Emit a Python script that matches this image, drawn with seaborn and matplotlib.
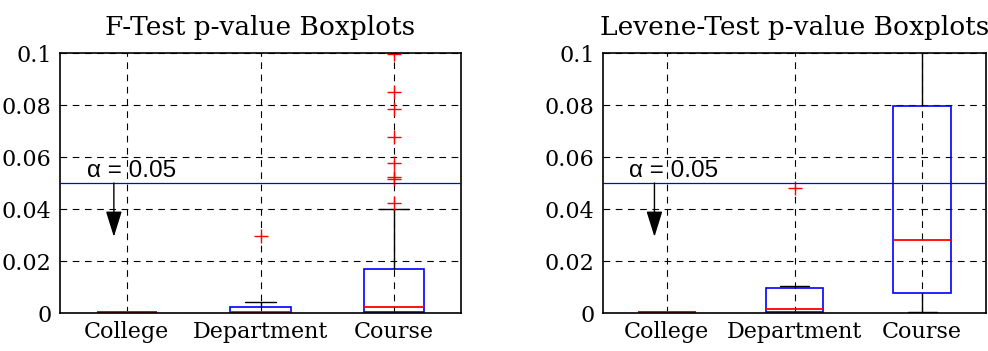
import numpy as np
import pandas as pd
import matplotlib
matplotlib.use("Agg")
import matplotlib.pyplot as plt
import seaborn as sns

# ---- data ----
categories = ["College", "Department", "Course"]

f_college = [0.0001, 0.0002, 0.0003, 0.0004, 0.0005]
f_department = [0.0, 0.0001, 0.0001, 0.0003, 0.0005, 0.0012, 0.0024, 0.0041, 0.0296]
f_course = [0.0, 0.0001, 0.0001, 0.0002, 0.0002, 0.0003, 0.0003, 0.0004, 0.0004,
            0.0005,
            0.0007, 0.0009, 0.0011, 0.0013, 0.0015, 0.0017, 0.0019, 0.0021,
            0.0024,
            0.0035, 0.0050, 0.0065, 0.0080, 0.0100, 0.0120, 0.0140, 0.0155,
            0.0170,
            0.0399, 0.0423, 0.0515, 0.0525, 0.0577, 0.0678, 0.0783, 0.0849, 0.0995]

lev_college = [0.0001, 0.0002, 0.0003, 0.0004, 0.0005]
lev_department = [0.0001, 0.0002, 0.0003, 0.0008, 0.0017, 0.0040, 0.0095, 0.0104, 0.0480]
lev_course = [0.0005, 0.0030, 0.0078, 0.0150, 0.0281, 0.0500, 0.0796, 0.1200, 0.1800]

alpha = 0.05
y_ticks = [0, 0.02, 0.04, 0.06, 0.08, 0.1]
y_tick_labels = ["0", "0.02", "0.04", "0.06", "0.08", "0.1"]
titles = ["F-Test p-value Boxplots", "Levene-Test p-value Boxplots"]


def make_frame(groups):
    rows = []
    for cat, vals in zip(categories, groups):
        for v in vals:
            rows.append({"level": cat, "p": v})
    return pd.DataFrame(rows)


frames = [make_frame([f_college, f_department, f_course]),
          make_frame([lev_college, lev_department, lev_course])]

sns.set_style("white")
plt.rcParams["font.family"] = ["DejaVu Serif"]
plt.rcParams["text.color"] = "black"
plt.rcParams["axes.labelcolor"] = "black"
plt.rcParams["xtick.color"] = "black"
plt.rcParams["ytick.color"] = "black"

fig = plt.figure(figsize=(9.88, 3.51), dpi=100)
axes = [fig.add_axes([60 / 988, 38 / 351, 401 / 988, 260 / 351]),
        fig.add_axes([603 / 988, 38 / 351, 383 / 988, 260 / 351])]

for ax, df, title in zip(axes, frames, titles):
    sns.boxplot(data=df, x="level", y="p", order=categories, ax=ax,
                width=0.45, whis=1.5,
                boxprops=dict(facecolor="none", edgecolor="blue", linewidth=1.2),
                medianprops=dict(color="red", linewidth=1.3),
                whiskerprops=dict(color="black", linewidth=1.0),
                capprops=dict(color="black", linewidth=1.0),
                flierprops=dict(marker="+", markeredgecolor="red",
                                markerfacecolor="red", markersize=10,
                                markeredgewidth=1.0, linestyle="none"))
    ax.set_xlim(-0.5, 2.5)
    ax.set_ylim(0, 0.1)
    ax.set_yticks(y_ticks)
    ax.set_yticklabels(y_tick_labels)
    ax.set_xlabel("")
    ax.set_ylabel("")
    ax.grid(True, axis="both", color="black", linestyle=(0, (6, 5)), linewidth=0.8)
    ax.set_axisbelow(True)
    for s in ax.spines.values():
        s.set_color("black")
        s.set_linewidth(1.2)
        s.set_visible(True)
    ax.tick_params(axis="both", direction="in", length=4, width=0.8,
                   labelsize=16, colors="black", labelcolor="black", pad=6)
    ax.set_title(title, fontsize=19, pad=13, color="black")

    ax.axhline(alpha, color="blue", linewidth=0.9, zorder=3)
    ax.text(-0.30, alpha + 0.0022, "α = 0.05", fontsize=17.5, color="black",
            family=["Liberation Sans", "DejaVu Sans"], ha="left", va="baseline",
            zorder=4)
    ax.annotate("", xy=(-0.097, 0.0293), xytext=(-0.097, alpha),
                arrowprops=dict(arrowstyle="-|>,head_length=1.6,head_width=0.5",
                                color="black", lw=1.0, shrinkA=0, shrinkB=0),
                zorder=4)

fig.savefig("out.png", dpi=100)
